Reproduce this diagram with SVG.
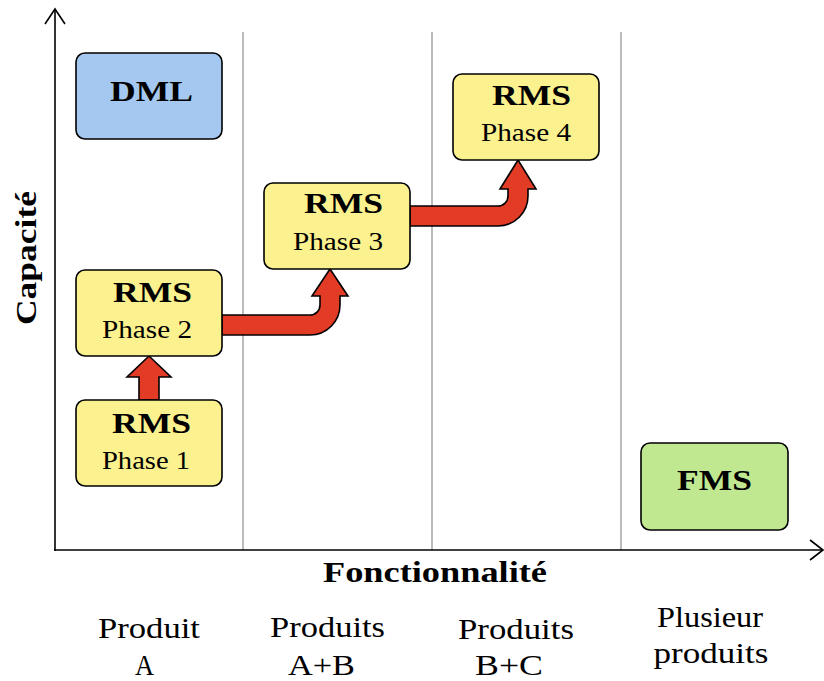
<svg xmlns="http://www.w3.org/2000/svg" width="824" height="681" viewBox="0 0 824 681">
<style>
.bg{fill:#ffffff}
.grid{stroke:#aaaaaa;stroke-width:1.6;fill:none}
.axis{stroke:#000;stroke-width:1.6;fill:none}
.box{stroke:#000;stroke-width:1.6}
.y{fill:#fbf18e}
.b{fill:#a4c8ef}
.g{fill:#c0e890}
.arr{fill:#e23c27;stroke:#000;stroke-width:1.6;stroke-linejoin:miter}
.t{fill:#000;text-anchor:middle}
.bold{font-weight:bold;font-size:30px}
.reg{font-size:26px}
.lab{font-size:30px}
</style>
<rect class="bg" x="0" y="0" width="824" height="681"/>
<g id="grid">
<line class="grid" x1="243" y1="32" x2="243" y2="550"/>
<line class="grid" x1="432" y1="32" x2="432" y2="550"/>
<line class="grid" x1="621" y1="32" x2="621" y2="550"/>
</g>
<g id="axes" font-family="Liberation Serif">
<line class="axis" x1="55" y1="551" x2="55" y2="9"/>
<polyline class="axis" points="45,24 55,9 65,24"/>
<line class="axis" x1="54" y1="550" x2="822" y2="550"/>
<polyline class="axis" points="810,540 823,550 810,560"/>
<text class="t bold" font-family="Liberation Serif" transform="translate(36,258) rotate(-90)" textLength="134" lengthAdjust="spacingAndGlyphs">Capacité</text>
<text class="t bold" font-family="Liberation Serif" x="435" y="582" textLength="224" lengthAdjust="spacingAndGlyphs">Fonctionnalité</text>
</g>
<g id="connectors">
<path class="arr" d="M139,400 L139,377 L127,377 L149,356 L171,377 L159,377 L159,400 Z"/>
<path class="arr" d="M222,315 L310,315 A10,10 0 0 0 320,305 L320,296 L312,296 L330,269 L348,296 L340,296 L340,305 A30,30 0 0 1 310,335 L222,335 Z"/>
<path class="arr" d="M410,206 L498,206 A10,10 0 0 0 508,196 L508,189 L500,189 L518,160 L536,189 L528,189 L528,196 A30,30 0 0 1 498,226 L410,226 Z"/>
</g>
<g id="dml" font-family="Liberation Serif">
<rect class="box b" x="76" y="53" width="146" height="86" rx="9"/>
<text class="t bold" font-family="Liberation Serif" x="151.5" y="101" textLength="83" lengthAdjust="spacingAndGlyphs">DML</text>
</g>
<g id="rms2" font-family="Liberation Serif">
<rect class="box y" x="76" y="270" width="146" height="86" rx="9"/>
<text class="t bold" font-family="Liberation Serif" x="152.5" y="302" textLength="79" lengthAdjust="spacingAndGlyphs">RMS</text>
<text class="t reg" font-family="Liberation Serif" x="147" y="338" textLength="90" lengthAdjust="spacingAndGlyphs">Phase 2</text>
</g>
<g id="rms1" font-family="Liberation Serif">
<rect class="box y" x="76" y="400" width="146" height="86" rx="9"/>
<text class="t bold" font-family="Liberation Serif" x="151.5" y="433" textLength="79" lengthAdjust="spacingAndGlyphs">RMS</text>
<text class="t reg" font-family="Liberation Serif" x="146" y="469" textLength="88" lengthAdjust="spacingAndGlyphs">Phase 1</text>
</g>
<g id="rms3" font-family="Liberation Serif">
<rect class="box y" x="264" y="183" width="146" height="86" rx="9"/>
<text class="t bold" font-family="Liberation Serif" x="343.5" y="213" textLength="79" lengthAdjust="spacingAndGlyphs">RMS</text>
<text class="t reg" font-family="Liberation Serif" x="338" y="250" textLength="90" lengthAdjust="spacingAndGlyphs">Phase 3</text>
</g>
<g id="rms4" font-family="Liberation Serif">
<rect class="box y" x="453" y="74" width="146" height="86" rx="9"/>
<text class="t bold" font-family="Liberation Serif" x="531.5" y="105" textLength="79" lengthAdjust="spacingAndGlyphs">RMS</text>
<text class="t reg" font-family="Liberation Serif" x="526" y="141" textLength="90" lengthAdjust="spacingAndGlyphs">Phase 4</text>
</g>
<g id="fms" font-family="Liberation Serif">
<rect class="box g" x="641" y="443" width="147" height="87" rx="9"/>
<text class="t bold" font-family="Liberation Serif" x="714.5" y="490" textLength="75" lengthAdjust="spacingAndGlyphs">FMS</text>
</g>
<g id="labels" font-family="Liberation Serif">
<text class="t lab" font-family="Liberation Serif" x="149" y="638" textLength="102" lengthAdjust="spacingAndGlyphs">Produit</text>
<text class="t lab" font-family="Liberation Serif" x="144.5" y="675" textLength="19" lengthAdjust="spacingAndGlyphs">A</text>
<text class="t lab" font-family="Liberation Serif" x="327.5" y="637" textLength="115" lengthAdjust="spacingAndGlyphs">Produits</text>
<text class="t lab" font-family="Liberation Serif" x="321.5" y="675" textLength="67" lengthAdjust="spacingAndGlyphs">A+B</text>
<text class="t lab" font-family="Liberation Serif" x="516" y="639" textLength="116" lengthAdjust="spacingAndGlyphs">Produits</text>
<text class="t lab" font-family="Liberation Serif" x="509" y="675" textLength="68" lengthAdjust="spacingAndGlyphs">B+C</text>
<text class="t lab" font-family="Liberation Serif" x="710" y="627" textLength="106" lengthAdjust="spacingAndGlyphs">Plusieur</text>
<text class="t lab" font-family="Liberation Serif" x="711" y="663" textLength="115" lengthAdjust="spacingAndGlyphs">produits</text>
</g>
</svg>
